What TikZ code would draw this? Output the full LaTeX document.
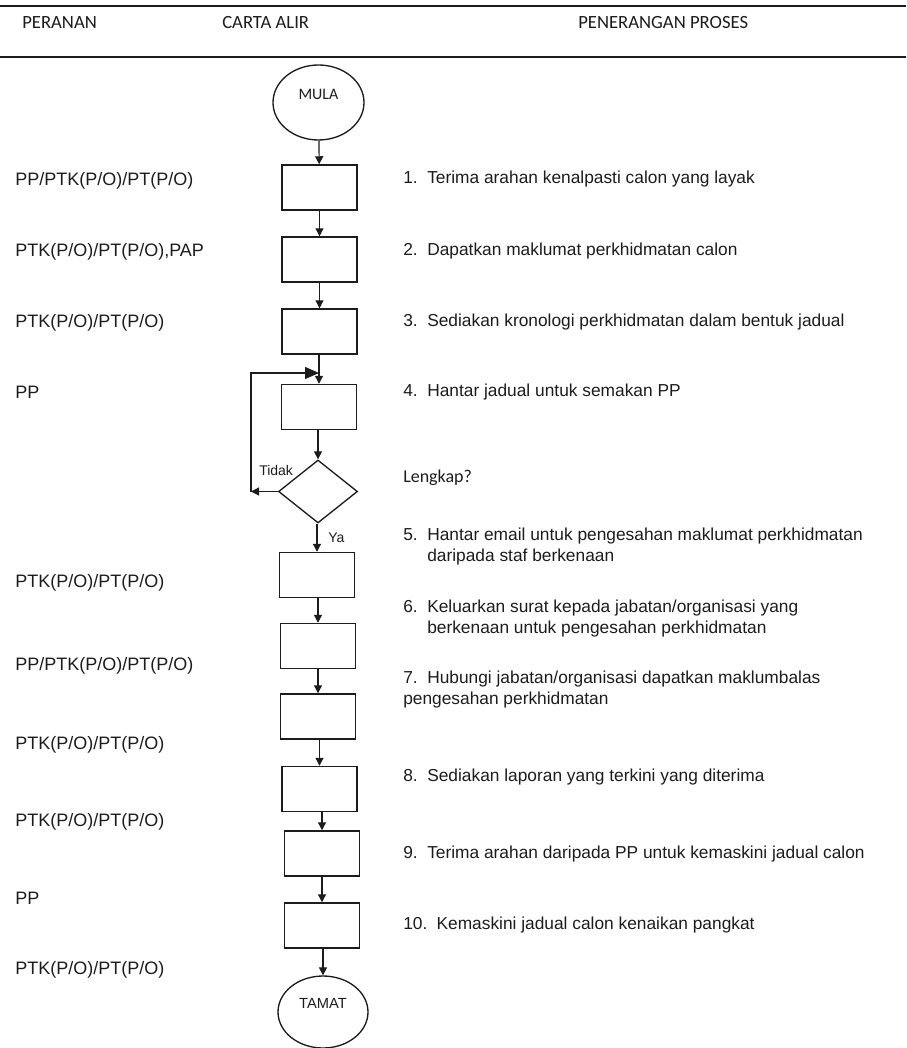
\documentclass[tikz,border=0pt]{standalone}
\usepackage{fontspec}
\setmainfont{Liberation Sans}
\newfontfamily\calfont{Carlito}
\usepackage{tikz}
\usetikzlibrary{arrows.meta,shapes.geometric}
\definecolor{chInk}{RGB}{28,28,28}
\newcommand\stepno[1]{\makebox[18pt][l]{#1}}

\begin{document}
\begin{tikzpicture}[
  x=0.75pt, y=-0.75pt,
  rule/.style={draw=chInk, line width=1.1pt},
  head/.style={anchor=base west, inner sep=0pt, text=chInk, font=\calfont\fontsize{14}{16}\selectfont},
  role/.style={anchor=base west, inner sep=0pt, text=chInk, font=\fontsize{13.5}{16}\selectfont},
  desc/.style={anchor=base west, inner sep=0pt, text=chInk, align=left, font=\fontsize{13}{15.75}\selectfont},
  stepbox/.style={draw=chInk, line width=1.1pt, minimum width=56.25pt, minimum height=33.75pt, inner sep=0pt},
  term/.style={ellipse, draw=chInk, line width=1pt, inner sep=0pt, text=chInk},
  ask/.style={diamond, draw=chInk, line width=1pt, inner sep=0pt, minimum width=59.25pt, minimum height=47.25pt},
  tag/.style={inner sep=0pt, anchor=base west, text=chInk, font=\fontsize{10.5}{12}\selectfont},
  arr/.style={-{Triangle[length=6pt,width=6pt]}, line width=0.9pt, draw=chInk},
  arrbig/.style={-{Triangle[length=10.5pt,width=9pt]}, line width=0.9pt, draw=chInk}
]
\useasboundingbox (0,0) rectangle (906,1048);

% header
\draw[rule] (0,6) -- (906,6);
\draw[rule] (0,57) -- (906,57);
\node[head] (hRole) at (22,29) {PERANAN};
\node[head] (hChart) at (222,29) {CARTA ALIR};
\node[head] (hDesc) at (578,29) {PENERANGAN PROSES};

% flow chart
\node[term, minimum width=68.25pt, minimum height=56.25pt, text depth=12.8pt,
      font=\calfont\fontsize{12}{14}\selectfont] (start) at (318.5,102.5) {MULA};
\node[stepbox] (b1) at (319.5,187.5) {};
\node[stepbox] (b2) at (319.5,259.5) {};
\node[stepbox] (b3) at (319.5,331.5) {};
\node[stepbox] (b4) at (319,407) {};
\node[ask] (dec) at (318,491.5) {};
\node[stepbox] (b5) at (317,575) {};
\node[stepbox] (b6) at (318,646) {};
\node[stepbox] (b7) at (318,716.5) {};
\node[stepbox] (b8) at (319.5,789) {};
\node[stepbox] (b9) at (322,853.5) {};
\node[stepbox] (b10) at (322,925.5) {};
\node[term, minimum width=67.5pt, minimum height=54pt, text depth=13.5pt,
      font=\fontsize{11}{13}\selectfont] (stop) at (323,1012) {TAMAT};

\coordinate (loopL) at (251,491.5);
\coordinate (loopT) at (319,373);

\draw[arr] (start) -- (b1);
\draw[arr] (b1) -- (b2);
\draw[arr] (b2) -- (b3);
\draw[arr] (b3.south -| b4.north) -- (b4.north);
\draw[arr] (b4.south -| dec.north) -- (dec.north);
\draw[arr] (dec.south -| b5.north) -- (b5.north);
\draw[arr] (b5.south -| b6.north) -- (b6.north);
\draw[arr] (b6) -- (b7);
\draw[arr] (b7.south -| b8.north) -- (b8.north);
\draw[arr] (b8.south -| b9.north) -- (b9.north);
\draw[arr] (b9) -- (b10);
\draw[arr] (b10.south -| stop.north) -- (stop.north);
\draw[arr] (dec.west) -- (loopL);
\draw[arrbig] (loopL) |- (loopT);
\node[tag] (no) at (259,475) {Tidak};
\node[tag] (yes) at (328,542) {Ya};

% roles
\node[role] (r1) at (15,185.5) {PP/PTK(P/O)/PT(P/O)};
\node[role] (r2) at (15,256.5) {PTK(P/O)/PT(P/O),PAP};
\node[role] (r3) at (15,327.5) {PTK(P/O)/PT(P/O)};
\node[role] (r4) at (15,398.5) {PP};
\node[role] (r5) at (15,587) {PTK(P/O)/PT(P/O)};
\node[role] (r6) at (15,670.5) {PP/PTK(P/O)/PT(P/O)};
\node[role] (r7) at (15,749.5) {PTK(P/O)/PT(P/O)};
\node[role] (r8) at (15,826.5) {PTK(P/O)/PT(P/O)};
\node[role] (r9) at (15,904.5) {PP};
\node[role] (r10) at (15,974.5) {PTK(P/O)/PT(P/O)};

% process notes
\node[desc] (d1) at (403,184) {\stepno{1.}Terima arahan kenalpasti calon yang layak};
\node[desc] (d2) at (403,256) {\stepno{2.}Dapatkan maklumat perkhidmatan calon};
\node[desc] (d3) at (403,326) {\stepno{3.}Sediakan kronologi perkhidmatan dalam bentuk jadual};
\node[desc] (d4) at (403,396) {\stepno{4.}Hantar jadual untuk semakan PP};
\node[anchor=base west, inner sep=0pt, text=chInk, font=\calfont\fontsize{13.5}{16}\selectfont] (dq) at (403,482) {Lengkap?};
\node[desc] (d5) at (403,561) {\stepno{5.}Hantar email untuk pengesahan maklumat perkhidmatan\\\stepno{}daripada staf berkenaan};
\node[desc] (d6) at (403,633) {\stepno{6.}Keluarkan surat kepada jabatan/organisasi yang\\\stepno{}berkenaan untuk pengesahan perkhidmatan};
\node[desc] (d7) at (403,704) {\stepno{7.}Hubungi jabatan/organisasi dapatkan maklumbalas\\pengesahan perkhidmatan};
\node[desc] (d8) at (403,781) {\stepno{8.}Sediakan laporan yang terkini yang diterima};
\node[desc] (d9) at (403,858) {\stepno{9.}Terima arahan daripada PP untuk kemaskini jadual calon};
\node[desc] (d10) at (403,929) {\makebox[25pt][l]{10.}Kemaskini jadual calon kenaikan pangkat};
\end{tikzpicture}
\end{document}
